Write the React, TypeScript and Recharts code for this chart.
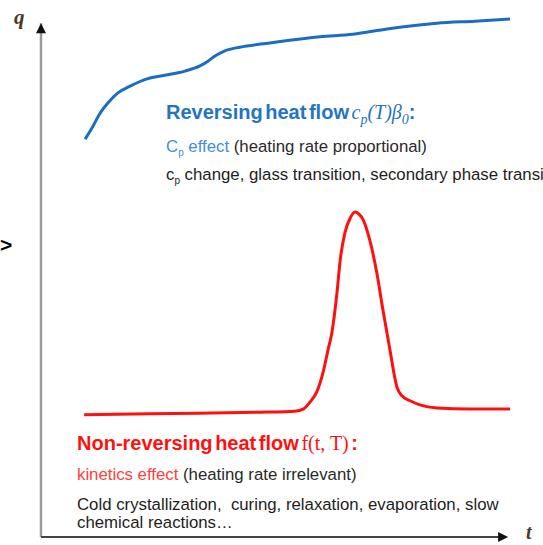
import { LineChart, Line, XAxis, YAxis, ReferenceLine, ReferenceDot } from 'recharts'

// time axis (arbitrary units) and heat flow readings
const reversingT = [9.4, 10.9, 12.6, 14.3, 16.4, 19.0, 22.6, 26.4, 30.7, 33.9, 35.6, 37.1, 39.2, 42.4, 48.8, 59.5, 66.5, 73.8, 84.4, 92.5, 100]
const reversingQ = [76.5, 78.7, 81.5, 83.5, 85.4, 86.7, 88.1, 88.8, 89.6, 90.6, 91.5, 92.5, 93.5, 94.2, 95.0, 96.2, 96.7, 97.7, 98.8, 99.2, 99.6]

const nonReversingT = [9.2, 23.2, 33.9, 46.7, 54.2, 55.9, 57.4, 58.8, 60.1, 61.2, 62.0, 63.1, 63.8, 64.8, 65.9, 67.0, 67.8, 68.7, 70.1, 71.6, 72.9, 74.4, 75.9, 77.0, 78.7, 80.8, 84.4, 91.5, 100]
const nonReversingQ = [23.5, 23.7, 23.8, 24.0, 24.2, 24.6, 26.0, 27.9, 31.5, 36.0, 39.2, 46.9, 53.3, 58.5, 61.3, 62.5, 62.1, 61.0, 57.1, 50.8, 43.7, 36.0, 28.8, 27.1, 26.2, 25.4, 24.8, 24.6, 24.6]

const Q_AXIS_END = 98.8
const T_AXIS_END = 99.6

const reversingData = reversingT.map((t, i) => ({ t, q: reversingQ[i] }))
const nonReversingData = nonReversingT.map((t, i) => ({ t, q: nonReversingQ[i] }))

const sans = '"Liberation Sans", Arial, sans-serif'
const serif = '"Liberation Serif", "DejaVu Serif", serif'

const upArrow = (p: any) => (
  <path d={`M${p.cx - 5},${p.cy + 10} L${p.cx},${p.cy} L${p.cx + 5},${p.cy + 10} Z`} fill="#111" />
)
const rightArrow = (p: any) => (
  <path d={`M${p.cx - 10},${p.cy - 5} L${p.cx},${p.cy} L${p.cx - 10},${p.cy + 5} Z`} fill="#111" />
)

const body = { position: 'absolute' as const, whiteSpace: 'nowrap' as const, fontSize: 16.8, lineHeight: '18px', color: '#2a2a2a' }

export default function App() {
  return (
    <div
      style={{
        position: 'absolute',
        left: 0,
        top: 0,
        width: 543,
        height: 545,
        overflow: 'hidden',
        background: '#fff',
        fontFamily: sans,
      }}
    >
      <LineChart
        width={543}
        height={545}
        margin={{ top: 17, right: 33, bottom: 8, left: 41 }}
      >
        <XAxis type="number" dataKey="t" domain={[0, 100]} hide />
        <YAxis type="number" dataKey="q" domain={[0, 100]} hide />
        <ReferenceLine
          segment={[{ x: 0, y: 0 }, { x: 0, y: Q_AXIS_END }]}
          stroke="#9a9a9a"
          strokeWidth={2.5}
        />
        <ReferenceLine
          segment={[{ x: 0, y: 0 }, { x: T_AXIS_END - 1.5, y: 0 }]}
          stroke="#444"
          strokeWidth={2}
        />
        <ReferenceDot x={0} y={Q_AXIS_END} shape={upArrow} />
        <ReferenceDot x={T_AXIS_END} y={0} shape={rightArrow} />
        <Line
          data={reversingData}
          dataKey="q"
          type="monotone"
          stroke="#1a6dc2"
          strokeWidth={3}
          dot={false}
          isAnimationActive={false}
        />
        <Line
          data={nonReversingData}
          dataKey="q"
          type="monotone"
          stroke="#ff1010"
          strokeWidth={3}
          dot={false}
          isAnimationActive={false}
        />
      </LineChart>

      <div style={{ position: 'absolute', left: 14, top: 5, fontFamily: serif, fontStyle: 'italic', fontWeight: 'bold', fontSize: 21, color: '#4a3a2a' }}>q</div>
      <div style={{ position: 'absolute', left: 526, top: 521, lineHeight: '22px', fontFamily: serif, fontStyle: 'italic', fontWeight: 'bold', fontSize: 20, color: '#4a3a2a' }}>t</div>
      <div style={{ position: 'absolute', left: 0, top: 233, fontWeight: 'bold', fontSize: 21, color: '#000' }}>&gt;</div>

      <div style={{ position: 'absolute', left: 166, top: 101, whiteSpace: 'nowrap', color: '#2474c4', fontSize: 20, fontWeight: 'bold', wordSpacing: -3 }}>
        Reversing heat flow{' '}
        <span style={{ fontFamily: serif, fontStyle: 'italic', fontWeight: 'normal', fontSize: 20, wordSpacing: 0 }}>
          c<sub style={{ fontSize: 14 }}>p</sub>(T)β<sub style={{ fontSize: 14 }}>0</sub>
        </span>
        :
      </div>
      <div style={{ ...body, left: 166, top: 138 }}>
        <span style={{ color: '#3f8fdc' }}>
          C<sub style={{ fontSize: 10 }}>p</sub> effect
        </span>{' '}
        (heating rate proportional)
      </div>
      <div style={{ ...body, left: 166, top: 166, color: '#1e1e1e' }}>
        c<sub style={{ fontSize: 10 }}>p</sub> change, glass transition, secondary phase transition
      </div>

      <div style={{ position: 'absolute', left: 77, top: 432, whiteSpace: 'nowrap', color: '#ff1010', fontSize: 20, fontWeight: 'bold', wordSpacing: -3 }}>
        Non-reversing heat flow{' '}
        <span style={{ fontFamily: serif, fontWeight: 'normal', fontSize: 20, wordSpacing: 0 }}>f(t, T)</span> :
      </div>
      <div style={{ ...body, left: 77, top: 466 }}>
        <span style={{ color: '#ff4040' }}>kinetics effect</span> (heating rate irrelevant)
      </div>
      <div style={{ ...body, left: 77, top: 496, color: '#1e1e1e' }}>
        Cold crystallization,&nbsp; curing, relaxation, evaporation, slow
        <br />
        chemical reactions…
      </div>
    </div>
  )
}
